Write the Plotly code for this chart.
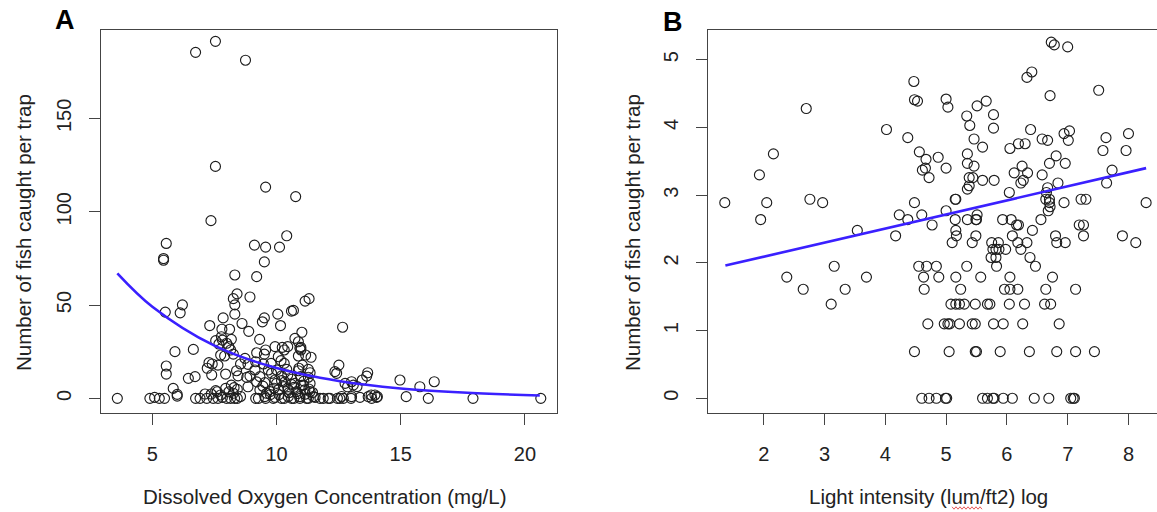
import plotly.graph_objects as go

# ---------------- Panel A data: dissolved oxygen vs fish count ----------------
do_conc = [
    6.74, 7.54, 8.75, 7.54, 9.56, 10.77, 7.36, 10.41, 9.11, 9.56, 10.12, 5.56, 5.45, 5.45, 9.51,
    8.32, 9.20, 8.41, 8.93, 8.26, 8.32, 11.15, 11.31, 6.21, 5.52, 6.12, 8.32, 10.05, 9.51, 9.43,
    10.68, 10.60, 7.85, 7.31, 8.61, 10.16, 12.66, 8.88, 11.02, 7.80, 8.11,
    7.78, 8.18, 7.82, 7.55, 7.99, 8.08, 7.75, 7.91, 7.68, 8.15, 5.91, 6.65, 8.26, 9.32, 10.74,
    10.88, 10.98, 10.94, 10.98, 9.20, 9.56, 9.51, 9.94, 10.23, 10.31, 10.45, 10.07, 10.88, 11.17,
    11.39, 8.73,
    7.28, 7.41, 7.64, 7.21, 7.39, 7.95, 5.56, 5.56, 6.45, 6.72, 8.55, 8.85, 8.39, 8.45, 8.80,
    9.16, 9.47, 9.78, 10.18, 10.31, 10.90, 11.04, 11.28, 11.35, 12.51, 12.35, 8.93, 9.33, 9.80,
    9.94, 10.45, 10.61, 12.76, 12.86, 13.45, 13.63, 13.67, 14.97, 15.77, 16.35, 9.13, 9.67, 10.00,
    10.41, 10.88, 10.20, 10.97, 11.28, 12.42, 13.02, 9.20, 9.53, 10.00, 10.34, 10.74, 11.08, 11.35,
    13.09, 9.33, 9.74, 10.07, 10.47, 10.81, 11.14, 11.35, 8.18, 8.29, 8.42, 8.85, 7.61, 7.12, 5.84,
    6.00, 6.00, 7.37, 7.55, 7.75, 7.95, 8.08, 8.26, 9.60, 9.90, 10.10, 10.30, 10.50, 10.70, 10.85,
    11.00, 11.15, 11.30, 11.45, 9.45, 9.75, 10.20, 10.60, 11.10, 13.24, 13.81, 13.96,
    3.59, 4.90, 5.09, 5.28, 5.49, 6.74, 6.92, 7.19, 7.45, 7.64, 7.82, 7.99, 8.15, 8.31, 8.42, 8.55,
    9.16, 9.27, 9.53, 9.56, 9.87, 9.94, 10.20, 10.31, 10.47, 10.61, 10.70, 10.94, 10.94, 11.21,
    11.28, 11.48, 11.55, 11.75, 11.88, 12.08, 12.15, 12.45, 12.55, 12.62, 12.69, 13.00, 13.02,
    13.36, 13.69, 13.83, 14.03, 14.06, 15.22, 16.11, 17.91, 20.64,
]
fish_count = [
    185.4, 191.3, 181.2, 124.3, 113.2, 108.1, 95.2, 87.1, 82.1, 81.0, 81.0, 83.0, 74.9, 74.0, 73.1,
    66.1, 65.2, 56.0, 54.3, 53.4, 50.1, 52.1, 53.4, 50.1, 46.2, 45.8, 45.1, 45.1, 43.1, 41.0,
    47.1, 46.7, 43.1, 39.0, 40.1, 39.0, 38.1, 35.9, 35.4, 37.0, 37.0,
    33.0, 31.6, 31.2, 30.9, 29.5, 27.7, 23.2, 22.7, 29.1, 25.9, 25.0, 26.2, 23.7, 31.6, 32.1,
    30.3, 27.3, 26.8, 25.9, 24.4, 25.9, 23.7, 27.7, 27.3, 25.9, 27.7, 22.3, 22.7, 23.2,
    22.0, 21.4,
    19.1, 18.4, 17.8, 16.1, 12.5, 13.0, 17.3, 13.0, 10.7, 11.6, 18.4, 18.2, 14.8, 12.0, 11.2,
    19.6, 18.4, 18.7, 20.2, 18.7, 16.1, 17.8, 15.5, 13.7, 17.8, 14.3, 11.9, 11.6, 13.4,
    9.8, 12.5, 10.2, 8.0, 6.2, 9.8, 11.9, 13.7, 9.8, 6.2, 8.9, 15.2, 15.2, 15.2,
    15.5, 14.8, 12.0, 11.6, 11.3, 13.4, 8.9, 8.8, 8.4, 8.0, 8.8, 8.0, 7.1, 8.0,
    7.1, 4.5, 3.6, 4.5, 4.8, 3.6, 4.5, 3.6, 7.1, 5.7, 4.8, 6.2, 3.5, 2.3, 5.3,
    2.1, 1.2, 2.3, 4.1, 1.8, 5.3, 3.5, 2.7, 2.7, 5.4, 2.0, 6.3, 3.0, 5.9, 2.5,
    6.9, 2.2, 5.0, 3.1, 6.5, 2.0, 9.5, 7.5, 9.2, 6.3, 1.8, 1.8,
    0, 0, 0.5, 0, 0, 0, 0, 0, 0, 0, 0.5, 0, 0, 0, 0, 1.0,
    0, 0, 0.9, 0, 0, 0.5, 0, 0, 0.9, 0, 0, 0.9, 0, 0,
    0, 0.9, 0.5, 0, 0, 0, 0, 0, 0, 1.0, 0, 0, 0.9,
    0.5, 0.9, 0, 0.5, 0.9, 0.9, 0, 0, 0,
]
# fitted exponential curve
do_fit_x = [3.59, 5.0, 7.5, 10.0, 12.5, 15.0, 17.5, 20.6]
do_fit_y = [67.0, 49.1, 28.2, 16.2, 9.3, 5.3, 3.1, 1.5]

# ---------------- Panel B data: light intensity (log) vs log fish ----------------
light_log = [
    1.36, 1.93, 2.16, 2.05, 1.95, 2.38, 2.65, 2.70, 2.76, 2.97, 3.16, 3.11, 3.34, 3.54, 3.69,
    4.02, 4.17, 4.23, 4.37, 4.37,
    4.47, 4.48, 4.53, 4.48, 4.48, 4.56, 4.60, 4.61, 4.66, 4.67, 4.72, 4.77, 4.87, 4.55, 4.68,
    4.84, 4.63, 4.88, 4.64, 4.70, 4.60, 4.72, 4.84, 4.99, 5.01,
    5.00, 5.03, 5.00, 5.00, 4.97, 5.03, 5.06, 5.22, 5.05, 5.15, 5.16, 5.15, 5.16, 5.17, 5.10,
    5.16, 5.24, 5.08, 5.16, 5.22, 5.30, 5.34, 5.39, 5.35, 5.35, 5.46, 5.38, 5.44, 5.35, 5.38,
    5.46, 5.34, 5.35, 5.49, 5.50, 5.51, 5.49, 5.43, 5.43, 5.48, 5.48, 5.50, 5.48,
    5.51, 5.66, 5.78, 5.78, 5.60, 5.60, 5.79, 5.57, 5.68, 5.72, 5.75, 5.82, 5.77, 5.87, 5.98,
    5.82, 5.74, 5.83, 5.86, 5.78, 5.94, 5.89, 5.60, 5.68, 5.77, 5.79, 5.94, 5.93, 5.96,
    6.05, 6.04, 6.07, 6.19, 6.16, 6.09, 6.18, 6.33, 6.23, 6.38, 6.47, 6.05, 6.05, 6.18, 6.04,
    6.29, 6.26, 6.37, 6.09, 6.19, 6.30, 6.25, 6.34, 6.12, 6.27, 6.23, 6.39, 6.41, 6.33, 6.42, 6.45,
    6.56, 6.58, 6.67, 6.58, 6.73, 6.78, 6.71, 6.70, 6.81, 6.67, 6.84, 6.64, 6.70, 6.70, 6.71,
    6.80, 6.82, 6.75, 6.64, 6.62, 6.72, 6.86, 6.82, 6.69, 6.94, 6.96, 6.94, 6.96, 6.65, 6.68,
    7.00, 7.03, 7.01, 7.51, 7.63, 7.58, 8.00, 7.96, 7.73, 7.64, 7.22, 7.30, 8.29, 7.19, 7.26,
    7.26, 7.90, 8.12, 7.13, 7.05, 7.09, 7.11, 7.13, 7.44,
]
log_fish = [
    2.89, 3.30, 3.61, 2.89, 2.64, 1.79, 1.61, 4.28, 2.94, 2.89, 1.95, 1.39, 1.61, 2.48, 1.79,
    3.97, 2.40, 2.71, 3.85, 2.64,
    4.68, 4.41, 4.39, 2.89, 0.69, 3.64, 2.71, 3.37, 3.40, 3.53, 3.26, 2.56, 3.56, 1.95, 1.95,
    1.95, 1.79, 1.79, 1.61, 1.10, 0, 0, 0, 0, 0,
    4.42, 4.30, 3.40, 2.77, 1.10, 1.10, 1.10, 1.10, 0.69, 2.94, 2.94, 2.64, 2.48, 2.40, 2.30,
    1.79, 1.61, 1.39, 1.39, 1.39, 1.39, 4.17, 4.03, 3.61, 3.47, 3.43, 3.26, 3.26, 3.09, 3.14,
    3.83, 1.95, 2.64, 2.64, 2.64, 2.71, 2.40, 2.30, 1.10, 1.10, 0.69, 0.69, 1.39,
    4.32, 4.39, 4.19, 3.99, 3.71, 3.22, 3.22, 1.79, 1.39, 1.39, 2.30, 2.20, 2.20, 2.20, 2.20,
    2.08, 2.08, 1.95, 2.30, 1.10, 1.10, 0.69, 0, 0, 0, 0, 0, 2.64, 1.61,
    3.69, 3.04, 2.64, 2.56, 2.56, 2.40, 2.30, 2.30, 2.20, 2.08, 1.95, 1.79, 1.61, 1.61, 1.39,
    1.39, 1.10, 0.69, 0, 3.76, 3.76, 3.43, 3.33, 3.33, 3.22, 3.18, 3.97, 4.82, 4.74, 2.48, 0,
    2.64, 3.83, 3.81, 3.30, 5.26, 5.22, 4.47, 3.47, 3.58, 3.11, 3.18, 2.94, 2.94, 2.89, 2.83,
    2.40, 2.30, 1.79, 1.61, 1.39, 1.39, 1.10, 0.69, 0, 3.91, 3.47, 2.89, 2.30, 3.04, 2.77,
    5.19, 3.95, 3.81, 4.55, 3.85, 3.66, 3.91, 3.66, 3.37, 3.18, 2.94, 2.94, 2.89, 2.56, 2.56,
    2.40, 2.40, 2.30, 1.61, 0, 0, 0, 0.69, 0.69,
]
# fitted regression line endpoints
light_fit_x = [1.37, 8.29]
light_fit_y = [1.96, 3.40]

# tick values
a_xticks = [5, 10, 15, 20]
a_yticks = [0, 50, 100, 150]
b_xticks = [2, 3, 4, 5, 6, 7, 8]
b_yticks = [0, 1, 2, 3, 4, 5]

W, H = 1157, 512
FONT = "Liberation Sans, Arial, Helvetica, sans-serif"
LINE = "#3a20ff"
BOX = "#444444"


def px_x(p):
    return p / W


def px_y(p):
    return 1 - p / H


marker = dict(symbol="circle-open", size=10, color="#1e1e1e", line=dict(width=1.15, color="#1e1e1e"))

fig = go.Figure()
fig.add_trace(go.Scatter(x=do_conc, y=fish_count, mode="markers", marker=marker,
                         xaxis="x", yaxis="y", showlegend=False, hoverinfo="skip"))
fig.add_trace(go.Scatter(x=do_fit_x, y=do_fit_y, mode="lines",
                         line=dict(color=LINE, width=2.6, shape="spline", smoothing=1.0),
                         xaxis="x", yaxis="y", showlegend=False, hoverinfo="skip"))
fig.add_trace(go.Scatter(x=light_log, y=log_fish, mode="markers", marker=marker,
                         xaxis="x2", yaxis="y2", showlegend=False, hoverinfo="skip"))
fig.add_trace(go.Scatter(x=light_fit_x, y=light_fit_y, mode="lines",
                         line=dict(color=LINE, width=2.6),
                         xaxis="x2", yaxis="y2", showlegend=False, hoverinfo="skip"))

axis_common = dict(
    showline=True, linecolor=BOX, linewidth=1.4,
    ticks="outside", ticklen=11, tickwidth=1.3, tickcolor=BOX,
    showgrid=False, zeroline=False,
    tickfont=dict(family=FONT, size=20, color="#222222"),
)

y_dom = [px_y(412.5), px_y(29.6)]

fig.update_layout(
    width=W, height=H,
    margin=dict(l=0, r=0, t=0, b=0),
    paper_bgcolor="white", plot_bgcolor="white",
    xaxis=dict(axis_common, domain=[px_x(100.7), px_x(556.7)], range=[2.92, 21.28],
               tickvals=a_xticks, mirror=True, anchor="y", ticklabelstandoff=12),
    yaxis=dict(axis_common, domain=y_dom, range=[-7.6, 197.6],
               tickvals=a_yticks, mirror=True, anchor="x", tickangle=-90, ticklabelstandoff=10),
    xaxis2=dict(axis_common, domain=[px_x(708.3), 1.0], range=[1.089, 1.089 + (W - 708.3) / 60.8],
                tickvals=b_xticks, mirror=True, anchor="y2", ticklabelstandoff=12),
    yaxis2=dict(axis_common, domain=y_dom, range=[-0.21, 5.446],
                tickvals=b_yticks, mirror=False, anchor="x2", tickangle=-90, ticklabelstandoff=10),
)

title_font = dict(family=FONT, size=20.5, color="#222222")
annotations = [
    dict(text="Number of fish caught per trap", x=px_x(23), y=px_y(233), textangle=-90),
    dict(text="Number of fish caught per trap", x=px_x(632), y=px_y(233), textangle=-90),
    dict(text="Dissolved Oxygen Concentration (mg/L)", x=px_x(324), y=px_y(496)),
    dict(text="Light intensity (lum/ft2) log", x=px_x(928), y=px_y(496)),
]
for a in annotations:
    a.update(xref="paper", yref="paper", showarrow=False, font=title_font,
             xanchor="center", yanchor="middle")
annotations.append(dict(text="<b>A</b>", x=px_x(65), y=px_y(20), xref="paper", yref="paper",
                        showarrow=False, font=dict(family=FONT, size=27, color="black"),
                        xanchor="center", yanchor="middle"))
annotations.append(dict(text="<b>B</b>", x=px_x(673), y=px_y(22), xref="paper", yref="paper",
                        showarrow=False, font=dict(family=FONT, size=27, color="black"),
                        xanchor="center", yanchor="middle"))
fig.update_layout(annotations=annotations)

# red spell-check squiggle under "lum/ft2"
x0, x1, yb = 952, 982, 508
pts = []
xx = x0
k = 0
while xx <= x1:
    pts.append((xx, yb + (1.2 if k % 2 else -1.2)))
    xx += 2
    k += 1
path = "M " + " L ".join(f"{px_x(a):.5f},{px_y(b):.5f}" for a, b in pts)
fig.add_shape(type="path", path=path, xref="paper", yref="paper",
              line=dict(color="#e03030", width=0.8))

fig.write_html("out.html")
